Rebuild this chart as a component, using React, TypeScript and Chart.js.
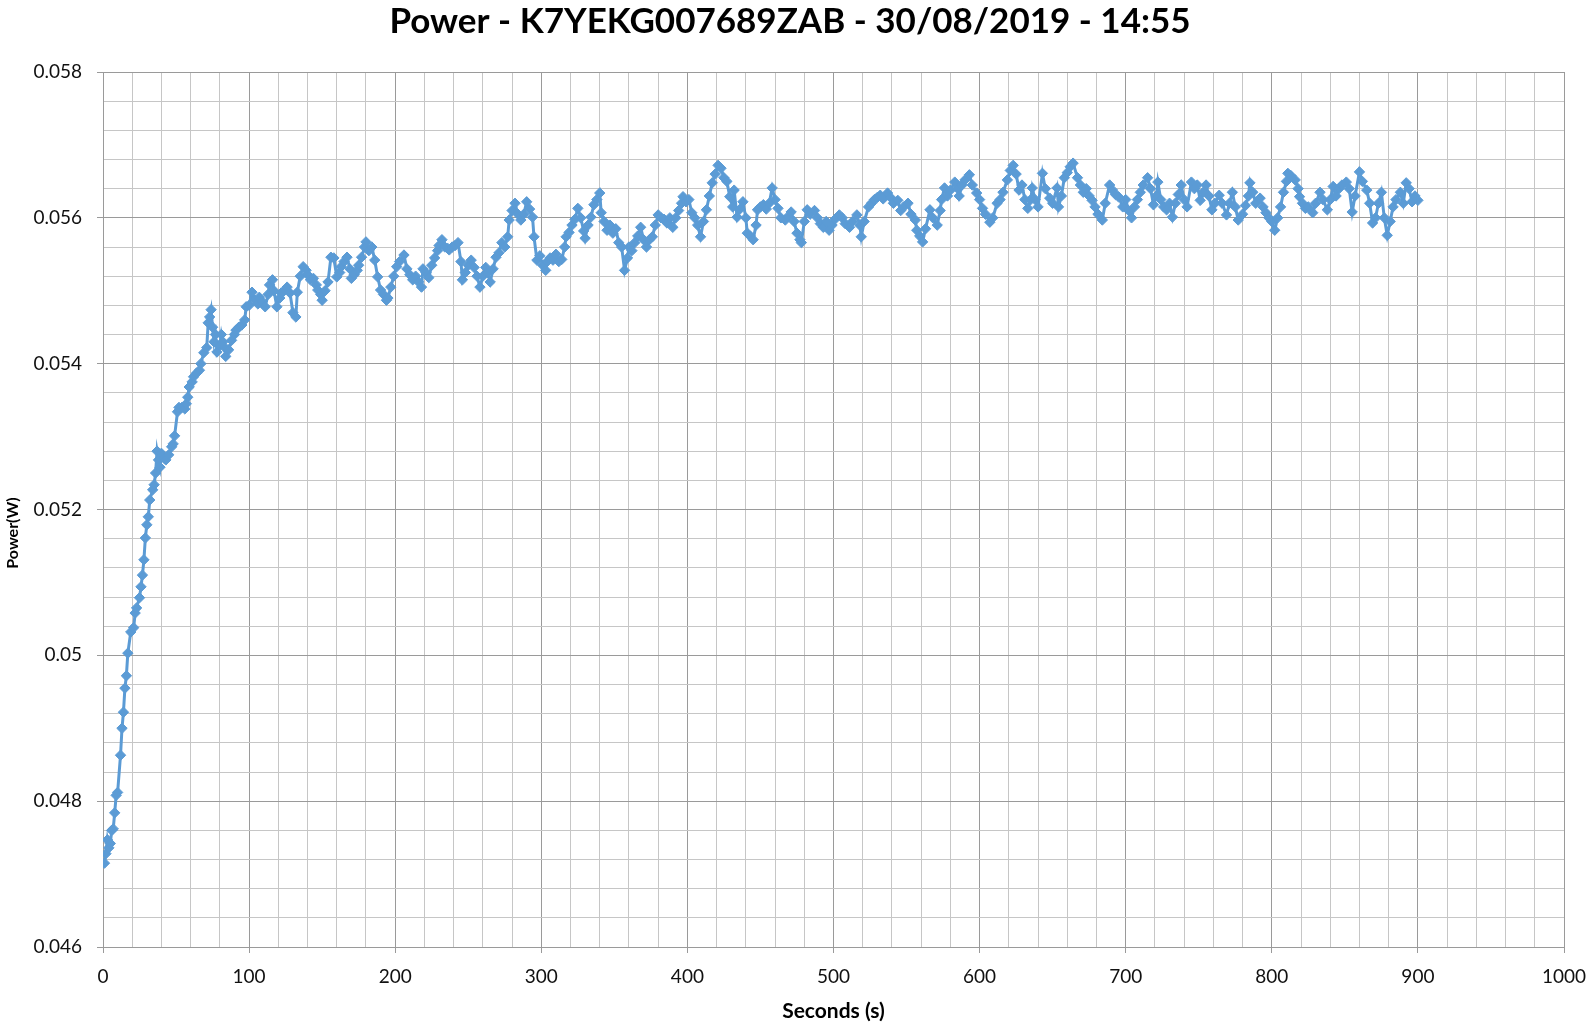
import React, { useEffect, useRef } from 'react';
import { Chart, registerables } from 'chart.js';

Chart.register(...registerables);

const TITLE = 'Power - K7YEKG007689ZAB - 30/08/2019 - 14:55';
const X_TITLE = 'Seconds (s)';
const Y_TITLE = 'Power(W)';

const X_MIN = 0;
const X_MAX = 1000;
const X_MAJOR = 100;
const X_MINOR = 20;
const Y_MIN = 0.046;
const Y_MAX = 0.058;
const Y_MAJOR = 0.002;
const Y_MINOR = 0.0004;

const seconds = [
  1, 2, 3, 4, 5, 6, 7, 8, 9, 10,
  12, 13, 14, 15, 16, 17, 19, 21, 22, 23,
  25, 26, 27, 28, 29, 30, 31, 32, 34, 35,
  36, 37, 38, 39, 40, 42, 43, 45, 47, 48,
  49, 51, 52, 54, 56, 57, 58, 59, 61, 62,
  64, 66, 67, 69, 71, 72, 73, 74, 75, 76,
  77, 78, 80, 81, 82, 83, 84, 86, 88, 90,
  91, 93, 95, 97, 98, 100, 102, 104, 106, 107,
  109, 111, 113, 114, 116, 117, 119, 121, 122, 124,
  126, 128, 130, 132, 133, 135, 137, 139, 140, 142,
  144, 146, 147, 149, 150, 152, 154, 156, 158, 160,
  162, 163, 165, 167, 169, 170, 172, 174, 175, 177,
  179, 180, 182, 184, 186, 188, 190, 192, 194, 195,
  197, 199, 201, 203, 206, 208, 210, 212, 214, 216,
  218, 219, 221, 223, 225, 227, 229, 230, 232, 234,
  236, 237, 239, 241, 243, 245, 246, 248, 250, 252,
  254, 256, 258, 260, 262, 263, 265, 267, 269, 271,
  273, 275, 277, 278, 280, 282, 284, 286, 288, 290,
  292, 294, 295, 297, 299, 301, 303, 304, 306, 308,
  310, 312, 314, 316, 317, 319, 321, 323, 325, 327,
  329, 330, 332, 334, 336, 338, 340, 341, 343, 345,
  347, 349, 351, 353, 355, 357, 359, 360, 362, 364,
  366, 368, 370, 372, 374, 376, 378, 380, 382, 384,
  386, 388, 390, 392, 394, 396, 397, 399, 401, 403,
  405, 407, 409, 411, 413, 415, 417, 419, 421, 423,
  425, 427, 429, 431, 432, 434, 436, 438, 440, 441,
  443, 445, 447, 448, 450, 452, 454, 456, 458, 460,
  462, 464, 467, 469, 471, 473, 475, 477, 478, 480,
  482, 484, 487, 489, 491, 493, 495, 497, 499, 501,
  504, 506, 508, 511, 513, 516, 518, 519, 521, 524,
  526, 528, 530, 532, 534, 537, 539, 541, 544, 546,
  548, 551, 553, 556, 557, 559, 561, 563, 566, 568,
  571, 573, 574, 576, 578, 580, 583, 585, 586, 588,
  590, 593, 595, 598, 600, 602, 604, 607, 609, 612,
  614, 616, 619, 621, 623, 625, 627, 629, 631, 633,
  635, 636, 638, 640, 643, 645, 648, 650, 653, 654,
  656, 658, 660, 662, 664, 667, 669, 671, 673, 675,
  677, 679, 681, 684, 686, 689, 691, 693, 695, 698,
  700, 702, 704, 706, 708, 710, 712, 715, 717, 719,
  721, 722, 724, 726, 728, 730, 732, 734, 736, 738,
  740, 742, 745, 747, 749, 751, 753, 755, 757, 759,
  761, 764, 766, 769, 771, 773, 775, 777, 780, 782,
  784, 785, 787, 789, 792, 794, 796, 798, 800, 802,
  804, 806, 808, 810, 811, 813, 816, 818, 819, 821,
  823, 825, 828, 830, 833, 835, 838, 840, 842, 844,
  846, 848, 851, 853, 855, 857, 860, 862, 865, 867,
  869, 871, 873, 875, 877, 879, 881, 883, 885, 888,
  890, 892, 894, 896, 898, 900,
];

const power = [
  0.04715, 0.04728, 0.04747, 0.04736, 0.04742, 0.0476, 0.04762, 0.04784, 0.04808, 0.04812,
  0.04863, 0.049, 0.04922, 0.04955, 0.04972, 0.05003, 0.05032, 0.05038, 0.05058, 0.05065,
  0.05079, 0.05094, 0.0511, 0.05131, 0.05161, 0.05179, 0.0519, 0.05213, 0.05227, 0.05234,
  0.0525, 0.0528, 0.05268, 0.05258, 0.05277, 0.0527, 0.05268, 0.05275, 0.05286, 0.0529,
  0.05301, 0.05334, 0.0534, 0.0534, 0.05338, 0.05345, 0.05354, 0.05368, 0.05375, 0.05382,
  0.05387, 0.05391, 0.054, 0.05415, 0.05422, 0.05456, 0.05464, 0.05474, 0.0545, 0.0543,
  0.0544, 0.05416, 0.05425, 0.0544, 0.0543, 0.05423, 0.0541, 0.05419, 0.05432, 0.0544,
  0.05446, 0.0545, 0.05453, 0.0546, 0.05478, 0.0548, 0.05498, 0.05487, 0.05482, 0.05491,
  0.05485, 0.05478, 0.05495, 0.05508, 0.05515, 0.055, 0.05478, 0.0549, 0.05497, 0.055,
  0.05505, 0.05497, 0.0547, 0.05464, 0.05498, 0.0552, 0.05533, 0.05528, 0.05522, 0.05515,
  0.05517, 0.05508, 0.05501, 0.05495, 0.05487, 0.055, 0.05512, 0.05546, 0.05545, 0.05519,
  0.05525, 0.05533, 0.0554, 0.05546, 0.0553, 0.05517, 0.05522, 0.05528, 0.05535, 0.05546,
  0.0556, 0.05567, 0.05555, 0.0556, 0.05542, 0.05519, 0.05501, 0.05495, 0.05487, 0.0549,
  0.05505, 0.0552, 0.05533, 0.0554, 0.05549, 0.0553, 0.05522, 0.05515, 0.0552, 0.05512,
  0.05505, 0.0553, 0.05525, 0.05518, 0.05535, 0.05545, 0.05555, 0.05562, 0.0557, 0.0556,
  0.05558, 0.05556, 0.0556, 0.05562, 0.05566, 0.0554, 0.05515, 0.05525, 0.05535, 0.05542,
  0.05532, 0.0552, 0.05505, 0.0552, 0.05532, 0.05525, 0.05512, 0.0553, 0.05546, 0.05552,
  0.05566, 0.0556, 0.05574, 0.05597, 0.0561, 0.0562, 0.05605, 0.05597, 0.05605, 0.05622,
  0.05612, 0.05601, 0.05574, 0.05542, 0.05548, 0.05535, 0.05528, 0.0554, 0.05545, 0.05542,
  0.0555, 0.0554, 0.05543, 0.0556, 0.05574, 0.0558, 0.0559, 0.05598, 0.05613, 0.056,
  0.05582, 0.05572, 0.0559, 0.05601, 0.05618, 0.05625, 0.05634, 0.05607, 0.05595, 0.05583,
  0.0559, 0.05579, 0.05585, 0.05566, 0.0556, 0.05528, 0.05545, 0.0556, 0.05555, 0.05566,
  0.05575, 0.05587, 0.0557, 0.0556, 0.0557, 0.05574, 0.0559, 0.05604, 0.056, 0.05598,
  0.05593, 0.056, 0.05587, 0.056, 0.0561, 0.0562, 0.05629, 0.05622, 0.05625, 0.05607,
  0.056, 0.0559, 0.05574, 0.05595, 0.05611, 0.0563, 0.05648, 0.0566, 0.05672, 0.05668,
  0.05655, 0.0565, 0.05629, 0.05615, 0.05638, 0.05601, 0.05612, 0.05622, 0.056, 0.05579,
  0.05575, 0.0557, 0.0559, 0.05611, 0.05615, 0.05618, 0.05612, 0.0562, 0.05641, 0.05625,
  0.05613, 0.056, 0.05597, 0.05602, 0.05608, 0.05595, 0.05579, 0.0557, 0.05566, 0.05595,
  0.05611, 0.05605, 0.0561, 0.056, 0.05592, 0.05587, 0.05595, 0.05583, 0.0559, 0.05598,
  0.05604, 0.056, 0.05592, 0.05587, 0.05595, 0.05604, 0.0559, 0.05574, 0.05595, 0.05615,
  0.0562, 0.05625, 0.05628, 0.05631, 0.05626, 0.05634, 0.05628, 0.0562, 0.05624, 0.0561,
  0.05615, 0.0562, 0.05605, 0.05597, 0.05583, 0.05575, 0.05567, 0.05585, 0.05611, 0.056,
  0.0559, 0.0561, 0.05625, 0.05641, 0.0563, 0.05638, 0.05649, 0.0564, 0.0563, 0.05645,
  0.05652, 0.05659, 0.05645, 0.05634, 0.05625, 0.05613, 0.05605, 0.05594, 0.056, 0.0562,
  0.05625, 0.05635, 0.05652, 0.05665, 0.05672, 0.0566, 0.05638, 0.05645, 0.05625, 0.05613,
  0.05625, 0.05641, 0.05625, 0.05615, 0.05661, 0.0564, 0.05627, 0.0562, 0.05641, 0.05615,
  0.0563, 0.05655, 0.05662, 0.0567, 0.05675, 0.05655, 0.05645, 0.05635, 0.0564, 0.0563,
  0.05624, 0.05615, 0.05605, 0.05597, 0.0562, 0.05645, 0.05638, 0.05632, 0.05629, 0.05615,
  0.05625, 0.0561, 0.056, 0.05615, 0.05625, 0.05635, 0.05645, 0.05655, 0.0564, 0.05618,
  0.0563, 0.05649, 0.05625, 0.05615, 0.05611, 0.0562, 0.05601, 0.0562, 0.05632, 0.05645,
  0.05625, 0.05615, 0.05649, 0.0564, 0.05645, 0.05624, 0.05635, 0.05645, 0.0563, 0.05611,
  0.0562, 0.05631, 0.0562, 0.05604, 0.0562, 0.05635, 0.05615, 0.05597, 0.05605, 0.05617,
  0.0563, 0.05648, 0.05635, 0.0562, 0.05627, 0.05615, 0.05607, 0.056, 0.05595, 0.05583,
  0.056, 0.05615, 0.05635, 0.0565, 0.05661, 0.05658, 0.05652, 0.0564, 0.05629, 0.0562,
  0.05613, 0.05615, 0.05607, 0.0562, 0.05635, 0.05625, 0.05611, 0.05625, 0.05643, 0.0563,
  0.0564, 0.05645, 0.05649, 0.0564, 0.05608, 0.0563, 0.05663, 0.0565, 0.05638, 0.0562,
  0.05593, 0.056, 0.0562, 0.05635, 0.056, 0.05576, 0.05595, 0.05615, 0.05625, 0.05635,
  0.0562, 0.05648, 0.0564, 0.05622, 0.0563, 0.05624,
];

const LINE_COLOR = '#5B9BD5';
const MAJOR_GRID = '#9a9a9a';
const MINOR_GRID = '#c6c6c6';
const TEXT_COLOR = '#111';
const FONT = 'Lato';

function isMultiple(v: number, step: number): boolean {
  const r = v / step;
  return Math.abs(r - Math.round(r)) < 1e-6;
}

export default function App() {
  const ref = useRef<HTMLCanvasElement>(null);

  useEffect(() => {
    if (!ref.current) return;

    const textPlugin = {
      id: 'fixedTexts',
      afterDraw(chart: any) {
        const ctx = chart.ctx;
        const area = chart.chartArea;
        ctx.save();
        ctx.fillStyle = '#000';
        ctx.textAlign = 'center';
        ctx.textBaseline = 'middle';
        ctx.font = `bold 35px ${FONT}`;
        ctx.fillText(TITLE, 790, 22);
        ctx.font = `bold 21px ${FONT}`;
        ctx.fillText(X_TITLE, (area.left + area.right) / 2, 1011);
        ctx.translate(13, 533);
        ctx.rotate(-Math.PI / 2);
        ctx.font = `bold 16px ${FONT}`;
        ctx.fillText(Y_TITLE, 0, 0);
        ctx.restore();
      },
    };

    const xTicks: number[] = [];
    for (let i = 0; i <= Math.round((X_MAX - X_MIN) / X_MINOR); i++) {
      xTicks.push(X_MIN + i * X_MINOR);
    }
    const yTicks: number[] = [];
    for (let i = 0; i <= Math.round((Y_MAX - Y_MIN) / Y_MINOR); i++) {
      yTicks.push(Math.round((Y_MIN + i * Y_MINOR) * 1e7) / 1e7);
    }

    const chart = new Chart(ref.current, {
      type: 'line',
      data: {
        datasets: [
          {
            data: seconds.map((s, i) => ({ x: s, y: power[i] })),
            borderColor: LINE_COLOR,
            backgroundColor: LINE_COLOR,
            borderWidth: 3,
            pointStyle: 'rectRot',
            pointRadius: 5.2,
            pointBorderWidth: 1,
            pointBackgroundColor: LINE_COLOR,
            pointBorderColor: LINE_COLOR,
            tension: 0,
          },
        ],
      },
      options: {
        responsive: false,
        animation: false,
        layout: { padding: { left: 0, right: 26, top: 72, bottom: 0 } },
        plugins: {
          legend: { display: false },
          tooltip: { enabled: false },
          title: { display: false },
        },
        scales: {
          x: {
            type: 'linear',
            min: X_MIN,
            max: X_MAX,
            afterBuildTicks(scale: any) {
              scale.ticks = xTicks.map((v) => ({ value: v }));
            },
            afterFit(scale: any) {
              scale.height = 79;
              scale.paddingLeft = 0;
              scale.paddingRight = 0;
            },
            ticks: {
              autoSkip: false,
              maxRotation: 0,
              padding: 12,
              color: TEXT_COLOR,
              font: { family: FONT, size: 19 },
              callback: (v: any) => (isMultiple(Number(v), X_MAJOR) ? String(v) : ''),
            },
            grid: {
              color: (ctx: any) => (isMultiple(ctx.tick.value, X_MAJOR) ? MAJOR_GRID : MINOR_GRID),
              tickColor: (ctx: any) => (isMultiple(ctx.tick.value, X_MAJOR) ? MAJOR_GRID : 'rgba(0,0,0,0)'),
              tickLength: 6,
              lineWidth: 1,
            },
            border: { color: MAJOR_GRID, width: 1 },
            title: { display: false },
          },
          y: {
            type: 'linear',
            min: Y_MIN,
            max: Y_MAX,
            afterBuildTicks(scale: any) {
              scale.ticks = yTicks.map((v) => ({ value: v }));
            },
            afterFit(scale: any) {
              scale.width = 103;
              scale.paddingTop = 0;
              scale.paddingBottom = 0;
            },
            ticks: {
              autoSkip: false,
              padding: 15,
              color: TEXT_COLOR,
              font: { family: FONT, size: 19 },
              callback: (v: any) =>
                isMultiple(Number(v), Y_MAJOR) ? String(parseFloat(Number(v).toFixed(3))) : '',
            },
            grid: {
              color: (ctx: any) => (isMultiple(ctx.tick.value, Y_MAJOR) ? MAJOR_GRID : MINOR_GRID),
              tickColor: (ctx: any) => (isMultiple(ctx.tick.value, Y_MAJOR) ? MAJOR_GRID : 'rgba(0,0,0,0)'),
              tickLength: 6,
              lineWidth: 1,
            },
            border: { color: MAJOR_GRID, width: 1 },
            title: { display: false },
          },
        },
      },
      plugins: [textPlugin],
    } as any);

    return () => chart.destroy();
  }, []);

  return (
    <div style={{ position: 'absolute', left: 0, top: 0, width: 1590, height: 1026, background: '#fff' }}>
      <canvas ref={ref} width={1590} height={1026} style={{ display: 'block' }} />
    </div>
  );
}
